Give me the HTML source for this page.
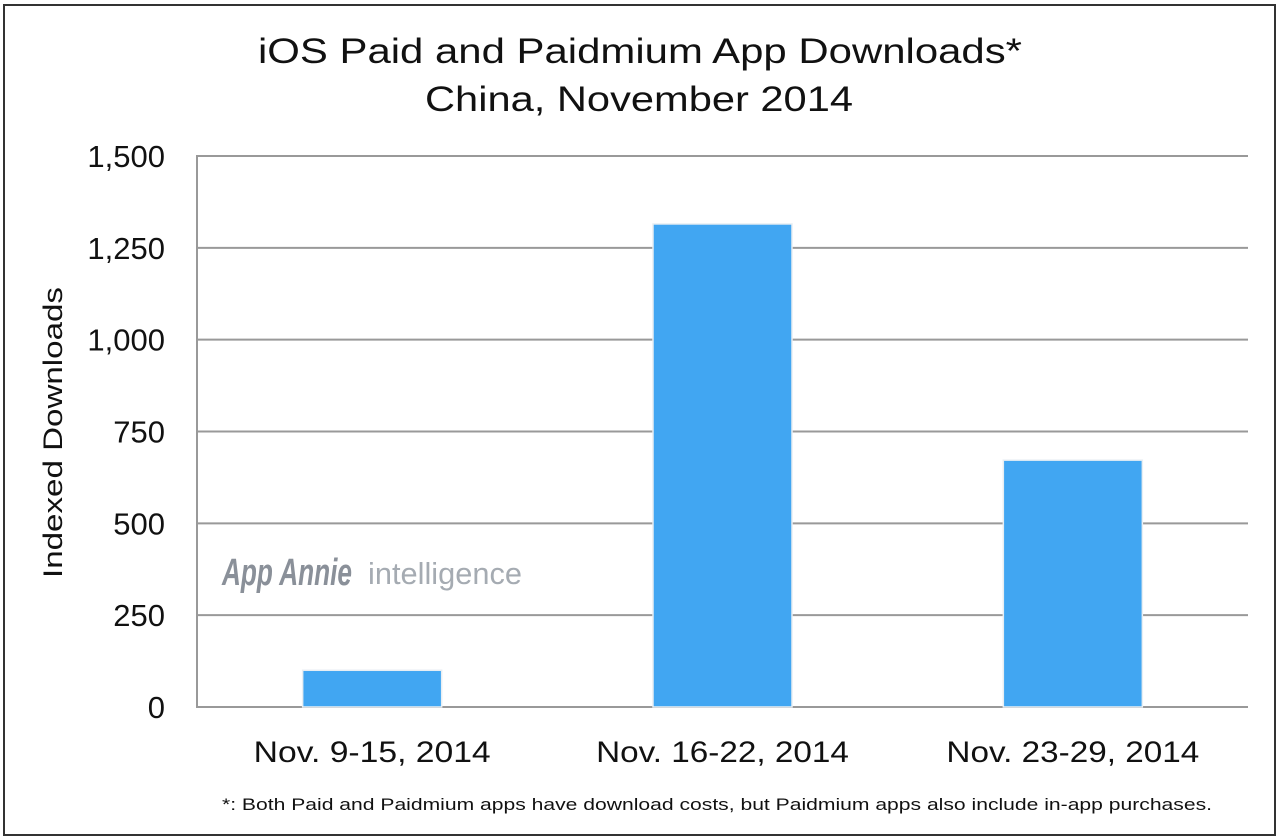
<!DOCTYPE html>
<html><head><meta charset="utf-8"><style>
html,body{margin:0;padding:0;background:#fff;}
svg{display:block;font-family:"Liberation Sans",sans-serif;}
</style></head><body>
<svg id="chart" width="1280" height="840">
<rect x="4" y="5" width="1271" height="830" fill="#fff" stroke="#333" stroke-width="2"/>
<text x="258" y="63" textLength="764" lengthAdjust="spacingAndGlyphs" font-size="35" fill="#111">iOS Paid and Paidmium App Downloads*</text>
<text x="425" y="111" textLength="428" lengthAdjust="spacingAndGlyphs" font-size="35" fill="#111">China, November 2014</text>
<text transform="translate(62,578) rotate(-90)" textLength="291" lengthAdjust="spacingAndGlyphs" font-size="27" fill="#111">Indexed Downloads</text>
<g id="grid"></g>
<g>
<text x="222" y="585" textLength="130" lengthAdjust="spacingAndGlyphs" font-size="38" font-style="italic" font-weight="bold" fill="#8a9099">App Annie</text>
<text x="368" y="584" textLength="154" lengthAdjust="spacingAndGlyphs" font-size="31" fill="#a5abb2">intelligence</text>
</g>
<g id="bars"></g>
<g id="xlabels"></g>
<text x="222" y="810" textLength="990" lengthAdjust="spacingAndGlyphs" font-size="17" fill="#111">*: Both Paid and Paidmium apps have download costs, but Paidmium apps also include in-app purchases.</text>
</svg>
<script>
const categories=["Nov. 9-15, 2014","Nov. 16-22, 2014","Nov. 23-29, 2014"];
const values=[100,1315,672];
const yTicks=[0,250,500,750,1000,1250,1500];
const yTickLabels=["0","250","500","750","1,000","1,250","1,500"];
const NS="http://www.w3.org/2000/svg";
const L=197,R=1248,T=156,B=707,yMax=1500;
const y=v=>B-(v/yMax)*(B-T);
const band=(R-L)/categories.length;
const xc=i=>L+band*(i+0.5);
function mk(t,a,p){const e=document.createElementNS(NS,t);for(const k in a)e.setAttribute(k,a[k]);p.appendChild(e);return e;}
const grid=document.getElementById('grid');
yTicks.forEach((v,i)=>{
  const l=mk('line',{x1:L,x2:R,y1:y(v),y2:y(v),stroke:'#999','stroke-width':2},grid);
  
  
  const t=mk('text',{x:165,y:y(v)+11,'text-anchor':'end','font-size':31,fill:'#111'},grid);
  t.textContent=yTickLabels[i];
  
  
});
const ax=mk('line',{x1:L,x2:L,y1:T-1,y2:B+1,stroke:'#999','stroke-width':2},grid);


const bars=document.getElementById('bars'),xl=document.getElementById('xlabels');
const bw=139;
values.forEach((v,i)=>{
  const r=mk('rect',{x:xc(i)-bw/2,y:y(v),width:bw,height:B-y(v),fill:'#41a6f2',stroke:'#e8eef3','stroke-width':1.5},bars);
  
  
  const w=categories[i].length*15.8;
  const t=mk('text',{x:xc(i)-w/2,y:762,'font-size':30,fill:'#111',textLength:w,lengthAdjust:'spacingAndGlyphs'},xl);
  t.textContent=categories[i];
  
  
});
</script>
</body></html>
